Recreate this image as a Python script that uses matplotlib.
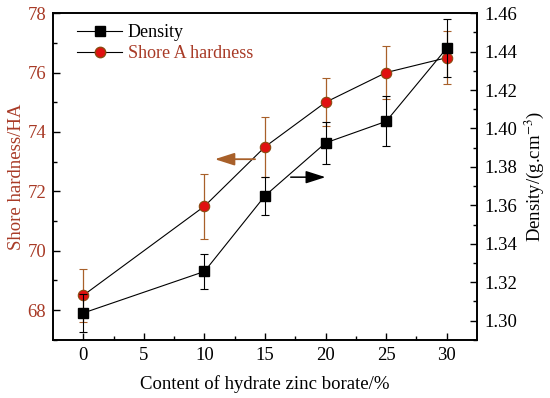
import matplotlib
matplotlib.use("Agg")
import matplotlib.pyplot as plt
from matplotlib.lines import Line2D

content = [0, 10, 15, 20, 25, 30]
hardness = [68.5, 71.5, 73.5, 75.0, 76.0, 76.5]
hardness_err = [0.9, 1.1, 1.0, 0.8, 0.9, 0.9]
density = [1.304, 1.3256, 1.365, 1.3925, 1.4037, 1.4418]
density_err = [0.010, 0.009, 0.010, 0.011, 0.013, 0.015]

plt.rcParams['font.family'] = ['Liberation Serif', 'DejaVu Serif']
plt.rcParams['font.size'] = 13.5
plt.rcParams['mathtext.fontset'] = 'stix'

red_text = '#a83a26'
err_red = '#a8602a'
mfc_red = '#e01010'
mec_red = '#8a4a10'

fig = plt.figure(figsize=(5.5, 3.98), dpi=100)
ax = fig.add_axes([0.0964, 0.146, 0.771, 0.821])
ax2 = ax.twinx()

ax.errorbar(content, hardness, yerr=hardness_err, color='black', lw=0.8,
            ecolor=err_red, elinewidth=0.9, capsize=3, capthick=0.9,
            marker='o', ms=7.5, mfc=mfc_red, mec=mec_red, mew=0.8, zorder=3)
ax2.errorbar(content, density, yerr=density_err, color='black', lw=0.8,
             ecolor='black', elinewidth=0.8, capsize=3, capthick=0.8,
             marker='s', ms=6.5, mfc='black', mec='black', zorder=3)

ax.set_xlim(-2.5, 32.5)
ax.set_ylim(67, 78)
ax2.set_ylim(1.29, 1.46)

ax.set_xticks([0, 5, 10, 15, 20, 25, 30])
ax.set_xticks([2.5, 7.5, 12.5, 17.5, 22.5, 27.5], minor=True)
ax.set_yticks([68, 70, 72, 74, 76, 78])
ax.set_yticks([67, 69, 71, 73, 75, 77], minor=True)
ax2.set_yticks([1.30, 1.32, 1.34, 1.36, 1.38, 1.40, 1.42, 1.44, 1.46])
ax2.set_yticks([1.29, 1.31, 1.33, 1.35, 1.37, 1.39, 1.41, 1.43, 1.45], minor=True)
ax2.yaxis.set_major_formatter(matplotlib.ticker.FormatStrFormatter('%.2f'))

for a in (ax, ax2):
    a.tick_params(which='both', direction='in', width=1.0, pad=5)
    a.tick_params(which='major', length=5)
    a.tick_params(which='minor', length=3)
    for s in a.spines.values():
        s.set_linewidth(1.2)

ax.tick_params(axis='y', labelcolor=red_text)
ax.set_xlabel('Content of hydrate zinc borate/%', fontsize=13.5, labelpad=8)
ax.set_ylabel('Shore hardness/HA', color=red_text, fontsize=13.5, labelpad=2)
ax2.set_ylabel('Density/(g.cm$^{-3}$)', fontsize=13.5, labelpad=4)

handles = [
    Line2D([], [], color='black', lw=0.8, marker='s', ms=6.5, mfc='black', mec='black'),
    Line2D([], [], color='black', lw=0.8, marker='o', ms=7.5, mfc=mfc_red, mec=mec_red),
]
leg = ax2.legend(handles, ['Density', 'Shore A hardness'], loc='upper left',
                 frameon=False, handlelength=2.5, handletextpad=0.3,
                 numpoints=1, borderaxespad=0.3, bbox_to_anchor=(0.027, 1.005),
                 fontsize=13, labelspacing=0.22)
leg.get_texts()[1].set_color(red_text)

ax2.annotate('', xy=(0.375, 0.553), xytext=(0.483, 0.553), xycoords='axes fraction',
             arrowprops=dict(arrowstyle='-|>,head_length=1.0,head_width=0.32',
                             color=err_red, lw=1.3, mutation_scale=12))
ax2.annotate('', xy=(0.649, 0.498), xytext=(0.554, 0.498), xycoords='axes fraction',
             arrowprops=dict(arrowstyle='-|>,head_length=1.0,head_width=0.32',
                             color='black', lw=1.1, mutation_scale=12))

fig.savefig('out.png', dpi=100)
